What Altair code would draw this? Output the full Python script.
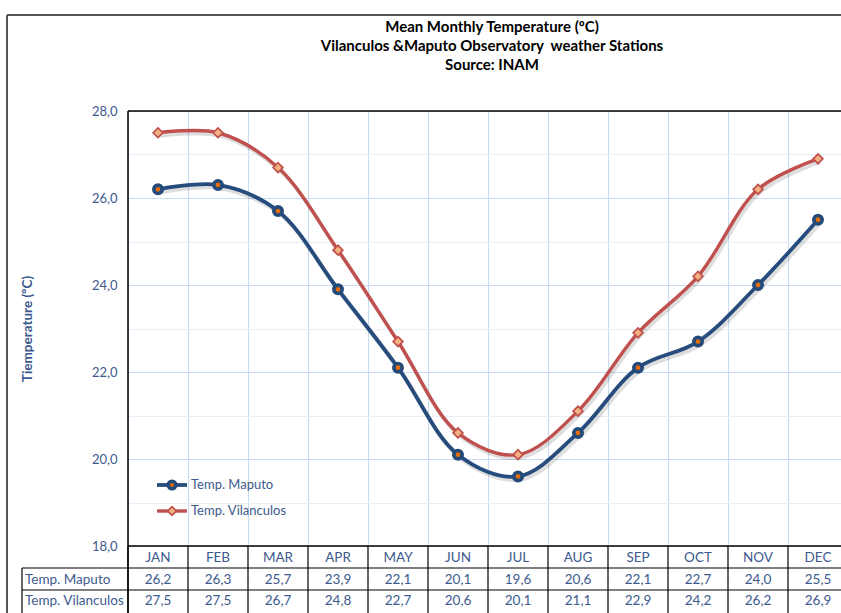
import altair as alt
import pandas as pd

# Monthly mean temperatures (ºC)
months = ["JAN", "FEB", "MAR", "APR", "MAY", "JUN", "JUL", "AUG", "SEP", "OCT", "NOV", "DEC"]
maputo = [26.2, 26.3, 25.7, 23.9, 22.1, 20.1, 19.6, 20.6, 22.1, 22.7, 24.0, 25.5]
vilanculos = [27.5, 27.5, 26.7, 24.8, 22.7, 20.6, 20.1, 21.1, 22.9, 24.2, 26.2, 26.9]
series_names = ["Temp. Maputo", "Temp. Vilanculos"]
title_lines = [
    "Mean Monthly Temperature (ºC)",
    "Vilanculos &Maputo Observatory\u00a0 weather Stations",
    "Source: INAM",
]

W, H = 713, 435            # visible plot area (extends past the right edge)
COL = 60                   # width of one month column
TXT = "#3D5A8E"
FONT = "Lato"

idx = list(range(1, 13))
df = pd.DataFrame({
    "m": idx * 2,
    "month": months * 2,
    "temp": maputo + vilanculos,
    "series": [series_names[0]] * 12 + [series_names[1]] * 12,
})
df["label"] = df["temp"].map(lambda v: f"{v:.1f}".replace(".", ","))
mp = df[df.series == series_names[0]]
vl = df[df.series == series_names[1]]
hdr = pd.DataFrame({"m": idx, "month": months})
bounds = pd.DataFrame({"b": [i + 0.5 for i in range(0, 13)]})
one = pd.DataFrame({"k": [0]})

xs = alt.Scale(domain=[0.5, 12.5], range=[0, 12 * COL], nice=False, zero=False)
ys = alt.Scale(domain=[18, 28], nice=False, zero=False)

X = alt.X("m:Q", scale=xs, axis=alt.Axis(
    values=[i / 2 for i in range(1, 26)], grid=True, labels=False, ticks=False,
    domain=False, title=None,
    gridColor=alt.condition("datum.value % 1 == 0", alt.value("#E6EEF8"), alt.value("#CADCF1")),
    gridWidth=1.2))
Y = alt.Y("temp:Q", scale=ys, axis=alt.Axis(
    values=list(range(18, 29)), grid=True, ticks=False, domain=False,
    labelExpr="datum.value % 2 == 0 ? replace(format(datum.value, '.1f'), '.', ',') : ''",
    labelColor=TXT, labelFont=FONT, labelFontSize=13, labelPadding=11,
    gridColor=alt.condition("datum.value % 2 == 0", alt.value("#CADCF1"), alt.value("#E6EEF8")),
    gridWidth=1.2,
    title="Tiemperature (ºC)", titleColor=TXT, titleFont=FONT, titleFontSize=13.5,
    titleFontWeight="bold", titlePadding=57))

base = alt.Chart(df).mark_point(opacity=0).encode(x=X, y=Y)

# series lines with soft drop shadows
def shadow(d, w):
    return alt.Chart(d).mark_line(interpolate="catmull-rom", color="#000000", opacity=0.13,
                                  strokeWidth=w, xOffset=2, yOffset=3).encode(x="m:Q", y="temp:Q")

line_m = alt.Chart(mp).mark_line(interpolate="catmull-rom", color="#264C7D", strokeWidth=3.8).encode(
    x="m:Q", y="temp:Q")
line_v = alt.Chart(vl).mark_line(interpolate="catmull-rom", color="#C0504D", strokeWidth=3.4).encode(
    x="m:Q", y="temp:Q")
pts_m = alt.Chart(mp).mark_point(shape="circle", filled=True, fill="#E46C0A", stroke="#244A7A",
                                 strokeWidth=3.6, size=70, opacity=1).encode(x="m:Q", y="temp:Q")
pts_v = alt.Chart(vl).mark_point(shape="diamond", filled=True, fill="#F4B183", stroke="#C0504D",
                                 strokeWidth=1.7, size=95, opacity=1).encode(x="m:Q", y="temp:Q")

# legend inside the plot area
LEG_Y = [374, 400]
legend_layers = []
for name, ly, col, sw, shp, fill, stroke, sz, psw in [
    (series_names[0], LEG_Y[0], "#264C7D", 3.8, "circle", "#E46C0A", "#244A7A", 70, 3.6),
    (series_names[1], LEG_Y[1], "#C0504D", 3.4, "diamond", "#F4B183", "#C0504D", 95, 1.7),
]:
    d = pd.DataFrame({"name": [name]})
    legend_layers += [
        alt.Chart(d).mark_rule(color=col, strokeWidth=sw).encode(
            x=alt.value(29), x2=alt.value(59), y=alt.value(ly)),
        alt.Chart(d).mark_point(shape=shp, filled=True, fill=fill, stroke=stroke, strokeWidth=psw,
                                size=sz * 0.8, opacity=1).encode(x=alt.value(44), y=alt.value(ly)),
        alt.Chart(d).mark_text(align="left", baseline="middle", font=FONT, fontSize=13,
                               color=TXT).encode(x=alt.value(63), y=alt.value(ly), text="name:N"),
    ]

# data table under the plot
R0, R1, R2, R3 = H, H + 22, H + 44, H + 68
txt = dict(font=FONT, fontSize=13.5, color=TXT, baseline="middle")
tbl_hdr = alt.Chart(hdr).mark_text(**txt).encode(
    x="m:Q", y=alt.value((R0 + R1) / 2 + 1), text="month:N")
tbl_m = alt.Chart(mp).mark_text(**txt).encode(
    x="m:Q", y=alt.value((R1 + R2) / 2 + 1), text="label:N")
tbl_v = alt.Chart(vl).mark_text(**txt).encode(
    x="m:Q", y=alt.value((R2 + R3) / 2 - 1), text="label:N")
row_m = alt.Chart(pd.DataFrame({"name": [series_names[0]]})).mark_text(align="left", **txt).encode(
    x=alt.value(-103), y=alt.value((R1 + R2) / 2 + 1), text="name:N")
row_v = alt.Chart(pd.DataFrame({"name": [series_names[1]]})).mark_text(align="left", **txt).encode(
    x=alt.value(-103), y=alt.value((R2 + R3) / 2 - 1), text="name:N")

col_lines = alt.Chart(bounds).mark_rule(color="#000000", strokeWidth=1.2).encode(
    x=alt.X("b:Q", scale=xs), y=alt.value(R0), y2=alt.value(R3 + 5))


def hrule(x1, x2, y, color="#000000", w=1.2):
    return alt.Chart(one).mark_rule(color=color, strokeWidth=w).encode(
        x=alt.value(x1), x2=alt.value(x2), y=alt.value(y))


def vrule(x, y1, y2, color="#000000", w=1.2):
    return alt.Chart(one).mark_rule(color=color, strokeWidth=w).encode(
        x=alt.value(x), y=alt.value(y1), y2=alt.value(y2))


frame = [
    hrule(0, W + 10, R0, w=1.5),
    hrule(-106, W + 10, R1),
    hrule(-106, W + 10, R2),
    vrule(-106, R1, R3 + 5),
    vrule(0, 0, R3 + 5, w=1.5),          # plot border, left
    hrule(0, W + 10, 0, w=1.5),          # plot border, top
    vrule(-121, -96, R3 + 5, "#555555", 2),   # outer chart frame
    hrule(-121, W + 10, -96, "#555555", 2),
]

# three-line heading
heading = [
    alt.Chart(pd.DataFrame({"t": [t]})).mark_text(
        font=FONT, fontSize=15, fontWeight="bold", color="#000000", baseline="middle").encode(
        x=alt.value(364), y=alt.value(ty), text="t:N")
    for t, ty in zip(title_lines, [-84, -65, -46])
]

chart = alt.layer(
    base, shadow(mp, 4.5), shadow(vl, 4), line_m, line_v, pts_m, pts_v,
    *legend_layers, col_lines, *frame,
    tbl_hdr, tbl_m, tbl_v, row_m, row_v, *heading,
).properties(
    width=W, height=H,
    autosize=alt.AutoSizeParams(type="none"),
    padding={"left": 128, "top": 111, "right": 0, "bottom": 67},
    background="#FFFFFF",
).configure_view(stroke=None)

chart.save("out.html", embed_options={"renderer": "svg", "actions": False})
